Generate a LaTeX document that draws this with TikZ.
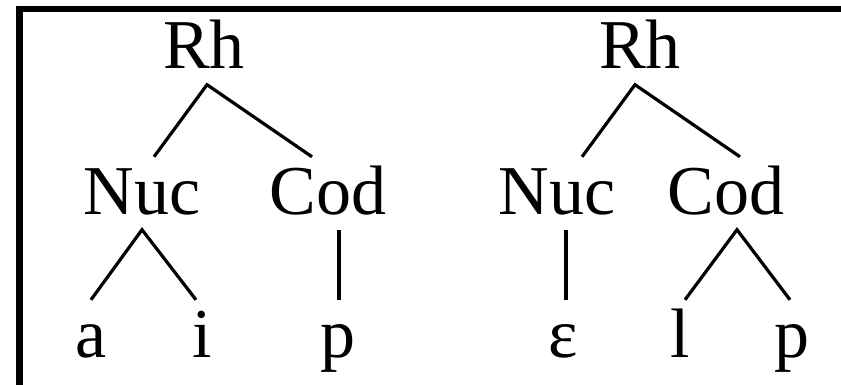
\documentclass[tikz,border=0pt]{standalone}
\usepackage{fontspec}
\setmainfont{Liberation Serif}
\usetikzlibrary{positioning}

\begin{document}
\begin{tikzpicture}[x=1pt, y=-1pt, every node/.style={font=\fontsize{70pt}{80pt}\selectfont, inner sep=0pt, text height=57pt, text depth=15.5pt, anchor=base}]
        \useasboundingbox (0,0) rectangle (841,385);
        \draw[line width=6.8pt, line join=miter] (19.5,385) -- (19.5,9) -- (841,9);

        % first tree
        \node (rhA) at (204,69) {Rh};
        \node (nucA) at (142,214) {Nuc};
        \node (codA) at (328,214) {Cod};
        \node (a) at (91,357) {a};
        \node (i) at (202,357) {i};
        \node (pA) at (338,357) {p};

        % second tree
        \node (rhB) at (640,69) {Rh};
        \node (nucB) at (557,214) {Nuc};
        \node (codB) at (726,214) {Cod};
        \node (eps) at (563,357) {ε};
        \node (l) at (680,357) {l};
        \node (pB) at (792,357) {p};

        \draw[line width=3.2pt] ([xshift=12pt]nucA.north) -- ([xshift=3pt]rhA.south) -- ([xshift=-16pt]codA.north);
        \draw[line width=3.2pt] (a.north) -- (nucA.south) -- ([xshift=-6pt]i.north);
        \draw[line width=3.6pt] ([xshift=11pt]codA.south) -- ([xshift=11pt]codA.south |- pA.north);

        \draw[line width=3.2pt] ([xshift=25pt]nucB.north) -- ([xshift=-5pt]rhB.south) -- ([xshift=14pt]codB.north);
        \draw[line width=3.6pt] ([xshift=9pt]nucB.south) -- ([xshift=9pt]nucB.south |- eps.north);
        \draw[line width=3.2pt] ([xshift=5pt]l.north) -- ([xshift=11pt]codB.south) -- ([xshift=-2pt]pB.north);
    \end{tikzpicture}
\end{document}
